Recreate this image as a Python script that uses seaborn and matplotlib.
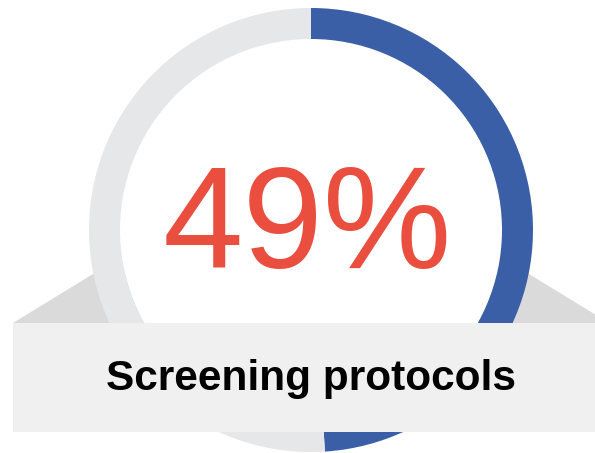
import matplotlib
matplotlib.use("Agg")
import matplotlib.pyplot as plt
import seaborn as sns
from matplotlib.patches import Polygon, Rectangle, Circle

sns.set_theme(style="white")
plt.rcParams["font.family"] = ["Liberation Sans", "DejaVu Sans"]

# Gauge data
label = "Screening protocols"
share = [49]            # percent completed
slices = [49, 51]       # completed / remaining
slice_colors = ["#3a5fa7", "#e6e7e9"]

W, H = 595, 453
fig = plt.figure(figsize=(W / 100, H / 100), dpi=100)
ax = fig.add_axes([0, 0, 1, 1])
ax.set_xlim(0, W)
ax.set_ylim(0, H)
ax.axis("off")

def py(y):
    # pixel row (top-down) to data y
    return H - y

cx, cy, r_out, ring = 311, py(230), 222, 31

# folded banner back (behind the ring)
ax.add_patch(Polygon([(13, py(323)), (93, py(274)), (529, py(274)), (609, py(323))],
                     closed=True, facecolor="#dadada", edgecolor="none", zorder=1))
# white face of the gauge
ax.add_patch(Circle((cx, cy), r_out - ring, facecolor="white", edgecolor="none", zorder=2))

# ring: clockwise from 12 o'clock
wedges, _ = ax.pie(slices, colors=slice_colors, startangle=90, counterclock=False,
                   center=(cx, cy), radius=r_out,
                   wedgeprops=dict(width=ring, edgecolor="none", linewidth=0))
for w in wedges:
    w.set_zorder(3)

# banner front
ax.add_patch(Rectangle((13, py(432)), 596, 109, facecolor="#f0f0f0",
                       edgecolor="none", zorder=4))

ax.text(307, py(268), f"{share[0]}%", ha="center", va="baseline",
        fontsize=104, color="#e94e3f", zorder=5)
ax.text(311, py(390), label, ha="center", va="baseline",
        fontsize=30.5, fontweight="bold", color="black", zorder=5)

ax.set_xlim(0, W)
ax.set_ylim(0, H)
ax.set_aspect("auto")
fig.savefig("out.png", dpi=100, facecolor="white")
